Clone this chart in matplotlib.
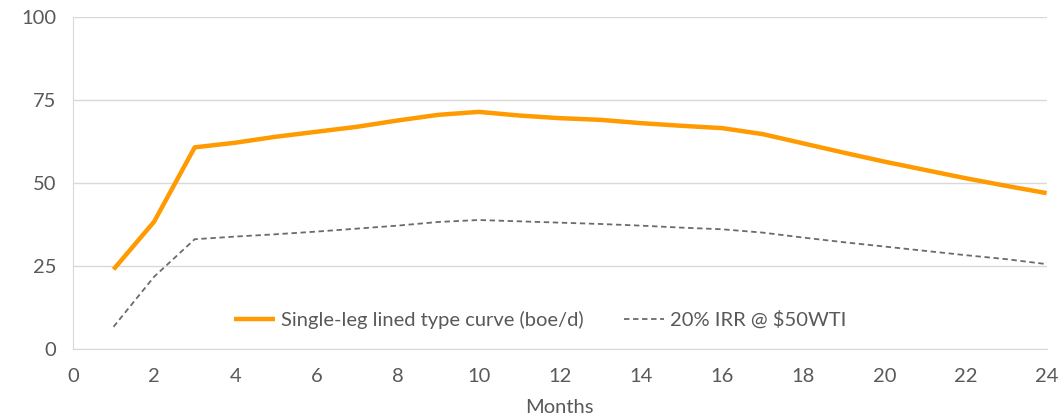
import matplotlib.pyplot as plt

# Monthly production, boe/d
months = list(range(1, 25))
type_curve = [23.9, 38.3, 60.7, 62.1, 63.9, 65.4, 66.9, 68.8, 70.5, 71.4, 70.3, 69.5,
              69.0, 68.0, 67.2, 66.5, 64.7, 61.9, 59.1, 56.4, 53.9, 51.4, 49.1, 46.9]
irr_20 = [6.6, 21.7, 33.0, 33.8, 34.5, 35.3, 36.2, 37.1, 38.2, 38.8, 38.4, 38.0,
          37.6, 37.1, 36.5, 36.0, 35.0, 33.5, 32.1, 30.8, 29.5, 28.2, 27.0, 25.5]

x_ticks = list(range(0, 25, 2))
y_ticks = [0, 25, 50, 75, 100]

plt.rcParams['font.family'] = ['Lato', 'DejaVu Sans']
text_color = '#595959'

fig = plt.figure(figsize=(10.64, 4.19), dpi=100)
ax = fig.add_axes([0.0686, 0.1678, 0.9151, 0.7916])

ax.plot(months, type_curve, color='#FF9A00', linewidth=3.2,
        label='Single-leg lined type curve (boe/d)', solid_capstyle='butt')
ax.plot(months, irr_20, color='#6b6b6b', linewidth=1.3, linestyle=(0, (3, 2)),
        label='20% IRR @ $50WTI')

ax.set_xlim(0, 24)
ax.set_ylim(0, 100)
ax.set_xticks(x_ticks)
ax.set_yticks(y_ticks)
ax.tick_params(length=0, labelsize=14.5, labelcolor=text_color)
ax.tick_params(axis='x', pad=14)
ax.tick_params(axis='y', pad=12)

# Gridlines
ax.grid(axis='y', color='#d9d9d9', linewidth=1)
ax.set_axisbelow(True)

for side in ['top', 'right']:
    ax.spines[side].set_visible(False)
ax.spines['left'].set_color('#d9d9d9')
ax.spines['bottom'].set_color('#d9d9d9')

ax.set_xlabel('Months', fontsize=14.5, color=text_color, labelpad=10)

ax.legend(loc='center', bbox_to_anchor=(0.48, 0.087), ncol=2, frameon=False,
          fontsize=14.5, labelcolor=text_color, handlelength=2.0, handletextpad=0.3,
          columnspacing=2.0)

fig.savefig('out.png', dpi=100)
